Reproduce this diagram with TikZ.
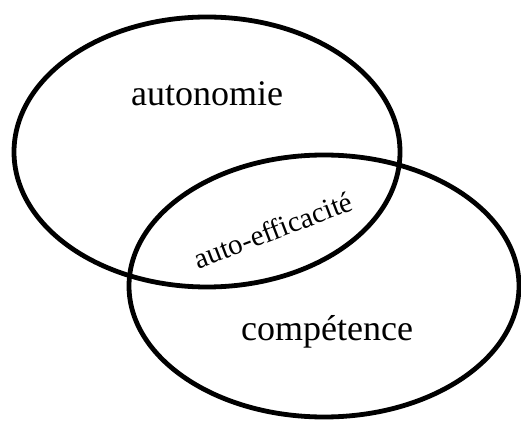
\documentclass[tikz,border=0pt]{standalone}
\usepackage{fontspec}
\setmainfont{Liberation Serif}
\usetikzlibrary{shapes.geometric}

\begin{document}
\begin{tikzpicture}[x=1pt,y=1pt]
  \tikzstyle{set}=[ellipse,draw=black,line width=4.8pt,inner sep=0pt]
  \tikzstyle{big label}=[font=\fontsize{36}{40}\selectfont,anchor=base]
  \tikzstyle{small label}=[font=\fontsize{29}{32}\selectfont,rotate=21]

  \useasboundingbox (0,0) rectangle (521,420);

  % Draw the two sets
  \node[set, minimum width=386pt, minimum height=270pt] (A) at (207,268) {};
  \node[set, minimum width=390pt, minimum height=262pt] (C) at (324,134) {};

  % Label the sets and their overlap
  \node[big label] (autonomie) at (207,314) {autonomie};
  \node[big label] (competence) at (327,80) {compétence};
  \node[small label] (overlap) at (273,190) {auto-efficacité};
\end{tikzpicture}
\end{document}
